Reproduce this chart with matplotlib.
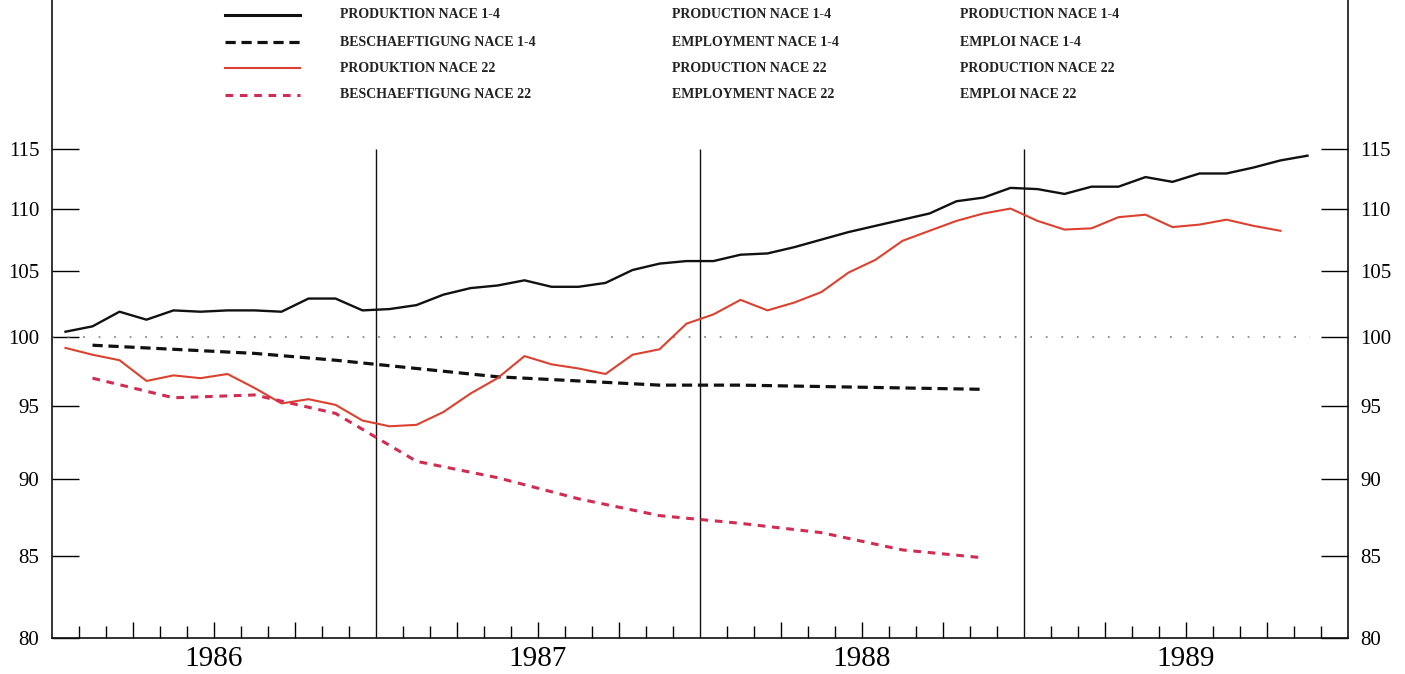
import numpy as np
import matplotlib
matplotlib.use("Agg")
import matplotlib.pyplot as plt
from matplotlib.lines import Line2D
from matplotlib.ticker import FixedLocator, NullLocator, FixedFormatter

# monthly index 0 = Jan 1986, values plotted at mid-month
prod_14 = [100.4, 100.8, 101.9, 101.3, 102.0, 101.9, 102.0, 102.0, 101.9, 102.9,
           102.9, 102.0, 102.1, 102.4, 103.2, 103.7, 103.9, 104.3, 103.8, 103.8,
           104.1, 105.1, 105.6, 105.8, 105.8, 106.3, 106.4, 106.9, 107.5, 108.1,
           108.6, 109.1, 109.6, 110.6, 110.9, 111.7, 111.6, 111.2, 111.8, 111.8,
           112.6, 112.2, 112.9, 112.9, 113.4, 114.0, 114.4]
prod_22 = [99.2, 98.7, 98.3, 96.8, 97.2, 97.0, 97.3, 96.3, 95.2, 95.5,
           95.1, 94.0, 93.6, 93.7, 94.6, 95.9, 97.0, 98.6, 98.0, 97.7,
           97.3, 98.7, 99.1, 101.0, 101.7, 102.8, 102.0, 102.6, 103.4, 104.9,
           105.9, 107.4, 108.2, 109.0, 109.6, 110.0, 109.0, 108.3, 108.4, 109.3,
           109.5, 108.5, 108.7, 109.1, 108.6, 108.2]
# quarterly employment, plotted at mid-quarter (months 1, 4, 7, ...)
empl_14 = [99.4, 99.1, 98.8, 98.3, 97.7, 97.1, 96.8, 96.5, 96.5, 96.4, 96.3, 96.2]
empl_22 = [97.0, 95.6, 95.8, 94.5, 91.2, 90.1, 88.7, 87.6, 87.1, 86.5, 85.4, 84.9]

years = ["1986", "1987", "1988", "1989"]
yticks = [80, 85, 90, 95, 100, 105, 110, 115]

labels_de = ["PRODUKTION NACE 1-4", "BESCHAEFTIGUNG NACE 1-4",
             "PRODUKTION NACE 22", "BESCHAEFTIGUNG NACE 22"]
labels_en = ["PRODUCTION NACE 1-4", "EMPLOYMENT NACE 1-4",
             "PRODUCTION NACE 22", "EMPLOYMENT NACE 22"]
labels_fr = ["PRODUCTION NACE 1-4", "EMPLOI NACE 1-4",
             "PRODUCTION NACE 22", "EMPLOI NACE 22"]

BLACK = "#111111"
RED = "#dc4130"
RED_D = "#d32c52"

W, H = 1405, 674
fig = plt.figure(figsize=(W / 100, H / 100), dpi=100)
ax = fig.add_axes([52 / W, 36 / H, (1348 - 52) / W, (H - 36) / H])

m_prod14 = np.arange(len(prod_14)) + 0.5
m_prod22 = np.arange(len(prod_22)) + 0.5
m_q = np.arange(len(empl_14)) * 3 + 1.5

styles = [
    dict(color=BLACK, lw=1.7, ls="-"),
    dict(color=BLACK, lw=2.3, ls=(0, (3.2, 1.8))),
    dict(color=RED, lw=1.5, ls="-"),
    dict(color=RED_D, lw=2.2, ls=(0, (2.5, 2.2))),
]

ax.hlines(100, 0, 46.6, colors="#8a8a8a", lw=1.3, linestyles=(0, (1, 7.6)))
for yb in range(1, 4):
    ax.vlines(12 * yb, 80, 115, colors=BLACK, lw=1.0)

ax.plot(m_prod14, prod_14, **styles[0])
ax.plot(m_q, empl_14, **styles[1])
ax.plot(m_prod22, prod_22, **styles[2])
ax.plot(m_q, empl_22, **styles[3])

ax.set_yscale("log")
ax.set_ylim(80, 128.4)
ax.set_xlim(0, 48)

ax.yaxis.set_major_locator(FixedLocator(yticks))
ax.yaxis.set_major_formatter(FixedFormatter([str(v) for v in yticks]))
ax.yaxis.set_minor_locator(NullLocator())
ax.tick_params(axis="y", which="major", direction="in", length=19.5, width=1.0,
               left=True, right=True, labelleft=True, labelright=True,
               labelsize=15, pad=9)

month_ticks = [m for m in range(1, 48) if m % 12 != 0]
quarter_ticks = [m for m in month_ticks if m % 3 == 0]
other_ticks = [m for m in month_ticks if m % 3 != 0]
ax.xaxis.set_major_locator(FixedLocator(quarter_ticks))
ax.xaxis.set_minor_locator(FixedLocator(other_ticks))
ax.tick_params(axis="x", which="major", direction="in", length=11.5, width=1.0,
               labelbottom=False)
ax.tick_params(axis="x", which="minor", direction="in", length=8.5, width=1.0)

for i, yr in enumerate(years):
    ax.text(12 * i + 6, -0.012, yr, transform=ax.get_xaxis_transform(),
            ha="center", va="top", fontsize=21, family="Liberation Serif")

for lab in ax.get_yticklabels() + ax.yaxis.get_ticklabels(which="major"):
    lab.set_family("Liberation Serif")
for t in ax.yaxis.get_major_ticks():
    t.label2.set_family("Liberation Serif")

ax.spines["top"].set_visible(False)
for s in ("left", "right", "bottom"):
    ax.spines[s].set_linewidth(1.2)
    ax.spines[s].set_color(BLACK)

# legend block (three languages)
row_y = [15, 42, 68, 95]
for k in range(4):
    fy = 1 - row_y[k] / H
    st = dict(styles[k])
    if k == 0:
        st["lw"] = 2.2
    fig.add_artist(Line2D([225 / W, 300 / W], [fy, fy], transform=fig.transFigure,
                          **st))
    for col_x, labs in zip([340, 672, 960], [labels_de, labels_en, labels_fr]):
        fig.text(col_x / W, fy, labs[k], ha="left", va="center", fontsize=10,
                 family="Liberation Serif", weight="bold", color="#222222")

fig.savefig("out.png", dpi=100, facecolor="white")
